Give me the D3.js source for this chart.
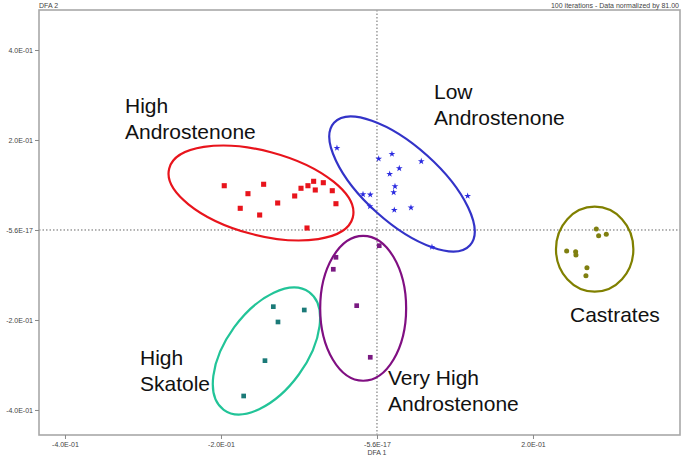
<!DOCTYPE html>
<html>
<head>
<meta charset="utf-8">
<script src="https://cdn.jsdelivr.net/npm/d3@7"></script>
<style>
  html, body { margin: 0; padding: 0; background: #fff; }
  svg { display: block; font-family: "Liberation Sans", Arial, sans-serif; }
</style>
</head>
<body>
<svg id="chart" width="685" height="458"></svg>
<script>
// ---------------- data (DFA 1, DFA 2) ----------------
const highAndroX = [-0.1958,-0.1453,-0.1654,-0.1753,-0.1504,-0.1273,-0.1055,-0.0974,-0.0885,-0.0812,-0.0791,-0.0688,-0.0573,-0.0526,-0.0897];
const highAndroY = [0.0984,0.1016,0.0807,0.0482,0.0333,0.0600,0.0756,0.0927,0.0984,0.1082,0.0889,0.1051,0.0873,0.0584,0.0044];

const lowAndroX = [-0.0513,0.0022,0.0192,0.0568,0.0163,0.0286,0.0231,0.0214,-0.0179,-0.0086,-0.0090,0.0222,0.0436,0.0705,0.1163];
const lowAndroY = [0.1822,0.1584,0.1689,0.1527,0.1244,0.1371,0.0971,0.0838,0.0793,0.0784,0.0527,0.0444,0.0496,-0.0378,0.0756];

const castratesX = [0.2812,0.2842,0.2940,0.2432,0.2547,0.2551,0.2692,0.2679];
const castratesY = [0.0022,-0.0127,-0.0096,-0.0467,-0.0482,-0.0556,-0.0838,-0.1016];

const skatoleX = [-0.1329,-0.0932,-0.1269,-0.1436,-0.1709];
const skatoleY = [-0.1704,-0.1778,-0.2044,-0.2904,-0.3689];

const veryHighX = [0.0029,-0.0526,-0.0560,-0.0260,-0.0086];
const veryHighY = [-0.0349,-0.0607,-0.0873,-0.1682,-0.2829];

// group ellipses: centre (DFA1, DFA2), semi-axes in DFA 1 units, rotation (deg)
const ellipseNames = ["High Androstenone","Low Androstenone","Castrates","High Skatole","Very High Androstenone"];
const ellipseCX = [-0.1487, 0.0321, 0.2791, -0.1417, -0.0177];
const ellipseCY = [0.0822, 0.1022, -0.0427, -0.2689, -0.1740];
const ellipseA  = [0.1218, 0.1173, 0.0496, 0.0932, 0.0551];
const ellipseB  = [0.0538, 0.0487, 0.0545, 0.0513, 0.0929];
const ellipseRot = [15, 42, 0, -54, 0];

const xTicks = [-0.4, -0.2, -5.6e-17, 0.2];
const yTicks = [0.4, 0.2, -5.6e-17, -0.2, -0.4];

const groupLabels = [["High","Androstenone"],["Low","Androstenone"],["Castrates"],["High","Skatole"],["Very High","Androstenone"]];

// ---------------- layout ----------------
const plot = {left: 39, right: 680, top: 10, bottom: 435};
const svg = d3.select("#chart");

const x = d3.scaleLinear().domain([-0.4333, 0.3885]).range([plot.left, plot.right]);
const y = d3.scaleLinear().domain([-0.4556, 0.4889]).range([plot.bottom, plot.top]);

function sci(v) {
  const s = v.toExponential(1).toUpperCase(); // e.g. 4.0E-1
  return s.replace(/E([+-])(\d)$/, "E$10$2").replace("E+", "E");
}

// dotted zero lines
svg.append("line")
  .attr("x1", plot.left).attr("x2", plot.right)
  .attr("y1", y(0)).attr("y2", y(0))
  .attr("stroke", "#666").attr("stroke-width", 1).attr("stroke-dasharray", "1.5,2");
svg.append("line")
  .attr("x1", x(0)).attr("x2", x(0))
  .attr("y1", plot.top).attr("y2", plot.bottom)
  .attr("stroke", "#666").attr("stroke-width", 1).attr("stroke-dasharray", "1.5,2");

// frame
svg.append("rect")
  .attr("x", plot.left).attr("y", plot.top)
  .attr("width", plot.right - plot.left).attr("height", plot.bottom - plot.top)
  .attr("fill", "none").attr("stroke", "#a8a8a8").attr("stroke-width", 1.6);

// axes
const xAxis = d3.axisBottom(x).tickValues(xTicks).tickSize(4).tickPadding(3).tickFormat(sci);
const yAxis = d3.axisLeft(y).tickValues(yTicks).tickSize(4).tickPadding(2).tickFormat(sci);
const gx = svg.append("g").attr("transform", `translate(0,${plot.bottom})`).call(xAxis);
const gy = svg.append("g").attr("transform", `translate(${plot.left},0)`).call(yAxis);
[gx, gy].forEach(g => {
  g.select(".domain").remove();
  g.selectAll(".tick line").attr("stroke", "#888");
  g.selectAll(".tick text").attr("fill", "#444").style("font-size", "7px");
});

// axis titles / header
svg.append("text").attr("x", x(0)).attr("y", 455).attr("text-anchor", "middle")
  .attr("fill", "#444").style("font-size", "7px").text("DFA 1");
svg.append("text").attr("x", plot.left).attr("y", 8)
  .attr("fill", "#444").style("font-size", "7px").text("DFA 2");
svg.append("text").attr("x", plot.right - 1).attr("y", 8).attr("text-anchor", "end")
  .attr("fill", "#444").style("font-size", "7px").text("100 iterations - Data normalized by 81.00");

// ellipses
const ellipseColors = ["#e8141c", "#3333c8", "#808000", "#22c498", "#800f82"];
const kx = x(1) - x(0);
ellipseNames.forEach((n, i) => {
  svg.append("ellipse")
    .attr("transform", `translate(${x(ellipseCX[i])},${y(ellipseCY[i])}) rotate(${ellipseRot[i]})`)
    .attr("rx", ellipseA[i] * kx).attr("ry", ellipseB[i] * kx)
    .attr("fill", "none").attr("stroke", ellipseColors[i]).attr("stroke-width", 2.2);
});

// points
function zip(xs, ys) { return xs.map((v, i) => [v, ys[i]]); }
const groups = [
  {pts: zip(highAndroX, highAndroY), sym: d3.symbolSquare, size: 26, color: "#e8141c"},
  {pts: zip(lowAndroX, lowAndroY), sym: d3.symbolStar, size: 14, color: "#2a2ae0"},
  {pts: zip(castratesX, castratesY), sym: d3.symbolCircle, size: 20, color: "#7f7f10"},
  {pts: zip(skatoleX, skatoleY), sym: d3.symbolSquare, size: 22, color: "#1b7a78"},
  {pts: zip(veryHighX, veryHighY), sym: d3.symbolSquare, size: 22, color: "#7a1a82"}
];
groups.forEach(g => {
  svg.append("g").selectAll("path").data(g.pts).join("path")
    .attr("transform", d => `translate(${x(d[0])},${y(d[1])})`)
    .attr("d", d3.symbol().type(g.sym).size(g.size))
    .attr("fill", g.color);
});

// group labels
const labelPos = [[125, 113], [434, 99], [570, 322], [140, 365], [388, 385]];
groupLabels.forEach((lines, i) => {
  const t = svg.append("text").attr("x", labelPos[i][0]).attr("y", labelPos[i][1])
    .attr("fill", "#111").style("font-size", "21px");
  lines.forEach((l, j) => {
    t.append("tspan").attr("x", labelPos[i][0]).attr("dy", j === 0 ? 0 : 26).text(l);
  });
});
</script>
</body>
</html>
